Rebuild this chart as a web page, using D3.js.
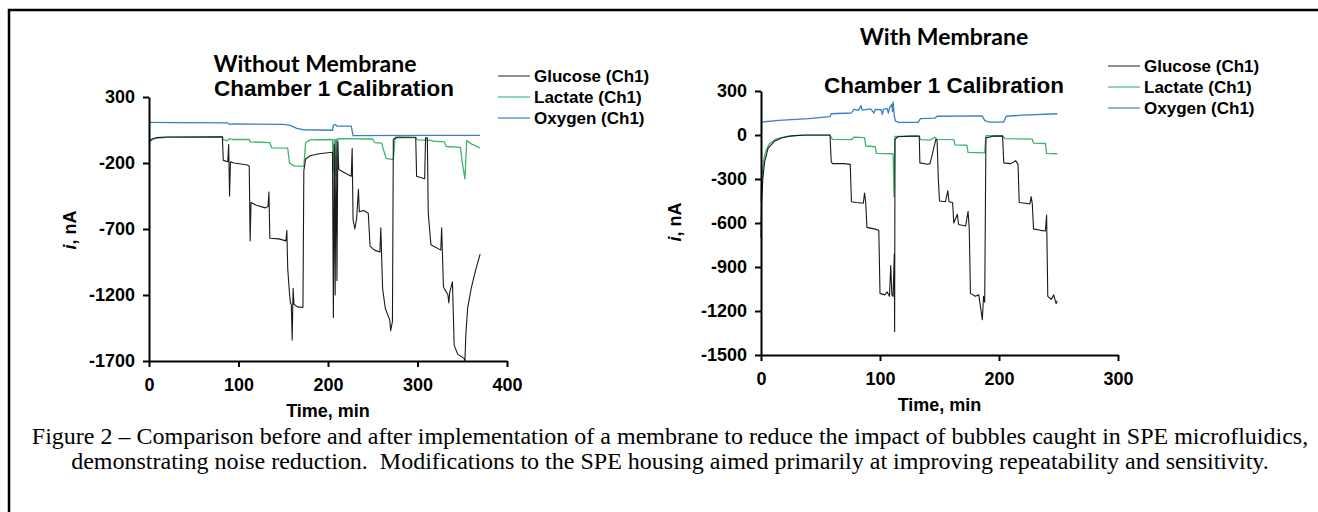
<!DOCTYPE html>
<html>
<head>
<meta charset="utf-8">
<script src="https://cdn.jsdelivr.net/npm/d3@7"></script>
<style>
  body { margin: 0; background: #fff; }
</style>
</head>
<body>
<div class="chart"></div>
<script>
// series values: [time (min), current (nA)]
var seriesNames = ['Glucose (Ch1)', 'Lactate (Ch1)', 'Oxygen (Ch1)'];
var seriesColors = ['#1a1a1a', '#3db56c', '#3d7fc6'];
var legendColors = ['#555555', '#4cc08a', '#4a8cc8'];

var leftXTicks = [0, 100, 200, 300, 400];
var leftYTicks = [300, -200, -700, -1200, -1700];
var rightXTicks = [0, 100, 200, 300];
var rightYTicks = [300, 0, -300, -600, -900, -1200, -1500];

var leftGlucose = [[0,-35],[3,-20],[8,-8],[20,-3],[82,-2],
  [83,-180],[88,-190],[89,-60],[90,-450],[91,-190],[95,-200],[110,-215],[112,-225],
  [113,-790],[114,-500],[120,-520],[130,-540],[133,-530],[134,-420],[135,-770],[145,-775],[153,-790],
  [154,-710],[155,-1000],[157,-1190],[158,-1260],[159,-1270],[160,-1540],[161,-1150],[162,-1270],[166,-1290],[172,-1295],
  [173,-260],[175,-170],[180,-145],[190,-130],[205,-118],
  [206,-1370],[207,-60],[208,-1200],[209,-20],[210,-1090],[211,-40],[212,-250],[220,-280],[226,-300],
  [227,-90],[228,-630],[230,-700],[232,-620],[234,-400],[235,-570],[240,-560],[245,-580],
  [247,-830],[252,-860],[258,-875],[259,-690],[261,-1150],[264,-1300],[269,-1390],[270,-1470],[272,-1400],
  [273,-20],[278,-5],[298,-5],[299,-300],[308,-320],[309,-10],[311,-10],
  [312,-580],[315,-820],[326,-860],[327,-690],[329,-1140],[334,-1200],[335,-1260],[336,-1180],[339,-1100],
  [341,-1580],[345,-1650],[352,-1680],[353,-1700],[354,-1500],[356,-1300],[360,-1150],[365,-1010],[370,-890]];

var leftLactate = [[0,-40],[3,-25],[8,-12],[20,-6],[82,-5],[83,-25],[88,-30],[90,-15],[93,-22],[112,-22],
  [113,-40],[135,-45],[137,-85],[155,-88],[157,-200],[162,-222],[173,-225],[175,-45],[180,-25],[205,-22],
  [206,-260],[207,-20],[209,-300],[211,-15],[250,-18],[252,-45],[260,-50],[262,-100],[265,-165],[273,-175],
  [275,-5],[298,-8],[300,-25],[315,-28],[317,-35],[330,-40],[332,-75],[348,-82],[350,-195],[353,-320],
  [355,-30],[360,-55],[370,-85]];

var leftOxygen = [[0,108],[30,106],[88,104],[90,92],[93,96],[150,92],[158,85],[165,62],[172,52],[205,48],
  [206,85],[208,92],[210,80],[226,80],[228,8],[300,10],[370,10]];

var rightGlucose = [[0,-700],[0.5,-450],[1.5,-300],[3,-185],[6,-90],[11,-45],[17,-20],[24,-8],[37,0],[58,0],
  [59,-180],[60,-195],[70,-195],[75,-200],[76,-455],[80,-460],[86,-465],[87,-395],[88,-460],[89,-630],[95,-640],
  [99,-650],[100,-1080],[104,-1090],[106,-1070],[108,-1100],[109,-890],[110,-1090],[111,-1100],[112,-810],
  [112.3,-1340],[112.6,-30],[115,-12],[125,-8],[133,-8],
  [133.5,-190],[140,-200],[142,-195],[144,-130],[146,-60],[147,-30],[148,-40],[149,-300],[150,-450],[155,-455],
  [157,-380],[158,-455],[161,-460],[162,-600],[165,-540],[166,-610],[172,-620],[174,-520],[175,-640],
  [176,-1080],[180,-1100],[183,-1090],[186,-1260],[187,-1100],[188,-1140],[189,-20],[195,-8],[203,-8],
  [204,-190],[210,-195],[214,-175],[216,-200],[217,-460],[222,-465],[226,-470],[227,-420],[228,-470],
  [229,-640],[235,-650],[239,-655],[240,-545],[241,-1100],[244,-1120],[246,-1090],[248,-1150],[249,-1130]];

var rightLactate = [[0,-450],[0.7,-300],[2,-180],[4,-110],[7,-60],[12,-30],[20,-12],[30,-3],[58,-2],
  [60,-30],[76,-32],[78,-15],[87,-18],[88,-75],[96,-80],[97,-125],[111,-128],[111.8,-420],[112.5,-10],
  [133,-8],[134,-32],[142,-35],[146,-15],[148,-30],[162,-32],[163,-68],[173,-70],[174,-118],[188,-122],
  [189,-5],[203,-5],[205,-25],[228,-28],[229,-55],[239,-58],[240,-125],[249,-128]];

var rightOxygen = [[0,88],[15,100],[40,112],[58,125],[59,145],[76,150],[78,175],[82,168],[84,200],[85,170],
  [92,178],[95,150],[96,175],[101,172],[102,140],[103,176],[106,180],[107,150],[108,185],[110,210],
  [110.5,160],[111,225],[112,130],[113,95],[116,86],[132,86],[134,112],[146,115],[148,128],[186,130],
  [188,98],[192,88],[204,88],[206,128],[220,135],[249,145]];

var W = 1318, H = 512;
var svg = d3.select('.chart')
  .append('svg')
  .attr('width', W)
  .attr('height', H);

// frame around the figure (runs off the right and bottom edges)
svg.append('path')
  .attr('d', 'M9,' + H + 'V10H' + W)
  .style('fill', 'none')
  .style('stroke', '#000')
  .style('stroke-width', 2.5);

function drawChart(c) {
  var x = d3.scaleLinear().domain(c.xDomain).range(c.xRange);
  var y = d3.scaleLinear().domain(c.yDomain).range(c.yRange);
  var g = svg.append('g');

  var line = d3.line()
    .x(function(d) { return x(d[0]); })
    .y(function(d) { return y(d[1]); });

  // draw oxygen first, glucose on top like the original
  [2, 1, 0].forEach(function(i) {
    g.append('path')
      .datum(c.series[i])
      .attr('d', line)
      .style('fill', 'none')
      .style('stroke', seriesColors[i])
      .style('stroke-width', i == 0 ? 1.1 : 1.3)
      .style('stroke-linejoin', 'round');
  });

  var fmt = function(d) { return String(d); };
  var yAxis = d3.axisLeft(y).tickValues(c.yTicks).tickFormat(fmt).tickSize(6).tickSizeOuter(0).tickPadding(8);
  var xAxis = d3.axisBottom(x).tickValues(c.xTicks).tickFormat(fmt).tickSize(6).tickSizeOuter(0).tickPadding(11);

  var ya = g.append('g')
    .attr('transform', 'translate(' + c.xRange[0] + ',0)')
    .call(yAxis);
  var xa = g.append('g')
    .attr('transform', 'translate(0,' + c.yRange[0] + ')')
    .call(xAxis);

  [ya, xa].forEach(function(a) {
    a.select('.domain').style('stroke', '#000').style('stroke-width', 2);
    a.selectAll('.tick line').style('stroke', '#000').style('stroke-width', 2);
    a.selectAll('.tick text')
      .style('font-family', '"Liberation Sans", Arial, sans-serif')
      .style('font-weight', 'bold')
      .style('font-size', '18px')
      .style('fill', '#000');
  });

  // axis titles
  var xMid = (c.xRange[0] + c.xRange[1]) / 2;
  g.append('text')
    .attr('x', xMid)
    .attr('y', c.yRange[0] + 56)
    .attr('text-anchor', 'middle')
    .style('font-family', '"Liberation Sans", Arial, sans-serif')
    .style('font-weight', 'bold')
    .style('font-size', '18px')
    .text('Time, min');

  var yl = g.append('text')
    .attr('transform', 'translate(' + c.yLabelX + ',' + c.yLabelY + ') rotate(-90)')
    .attr('text-anchor', 'middle')
    .style('font-family', '"Liberation Sans", Arial, sans-serif')
    .style('font-weight', 'bold')
    .style('font-size', '18px');
  yl.append('tspan').style('font-style', 'italic').text('i');
  yl.append('tspan').text(', nA');

  // titles
  g.append('text')
    .attr('x', c.titleX)
    .attr('y', c.titleY)
    .attr('text-anchor', 'middle')
    .style('font-family', 'Lato, "Open Sans", sans-serif')
    .style('font-weight', 'bold')
    .style('font-size', '23px')
    .text(c.title);
  g.append('text')
    .attr('x', c.subX)
    .attr('y', c.subY)
    .attr('text-anchor', 'middle')
    .style('font-family', '"Liberation Sans", Arial, sans-serif')
    .style('font-weight', 'bold')
    .style('font-size', '22.5px')
    .text('Chamber 1 Calibration');

  // legend
  var lg = g.append('g').attr('transform', 'translate(' + c.legendX + ',' + c.legendY + ')');
  seriesNames.forEach(function(name, i) {
    lg.append('line')
      .attr('x1', 0).attr('x2', 32)
      .attr('y1', i * c.legendStep).attr('y2', i * c.legendStep)
      .style('stroke', legendColors[i])
      .style('stroke-width', 1.3);
    lg.append('text')
      .attr('x', 36)
      .attr('y', i * c.legendStep + 6)
      .style('font-family', '"Liberation Sans", Arial, sans-serif')
      .style('font-weight', 'bold')
      .style('font-size', '17px')
      .text(name);
  });
}

drawChart({
  series: [leftGlucose, leftLactate, leftOxygen],
  xDomain: [0, 400], xRange: [149, 507],
  yDomain: [-1700, 300], yRange: [361, 97],
  xTicks: leftXTicks, yTicks: leftYTicks,
  yLabelX: 76, yLabelY: 230,
  title: 'Without Membrane', titleX: 315, titleY: 72,
  subX: 334, subY: 96,
  legendX: 498, legendY: 76, legendStep: 21
});

drawChart({
  series: [rightGlucose, rightLactate, rightOxygen],
  xDomain: [0, 300], xRange: [761, 1118],
  yDomain: [-1500, 300], yRange: [355, 91],
  xTicks: rightXTicks, yTicks: rightYTicks,
  yLabelX: 681, yLabelY: 222,
  title: 'With Membrane', titleX: 944, titleY: 45,
  subX: 944, subY: 93,
  legendX: 1108, legendY: 66, legendStep: 21
});

// caption
var caption = [
  'Figure 2 \u2013 Comparison before and after implementation of a membrane to reduce the impact of bubbles caught in SPE microfluidics,',
  'demonstrating noise reduction.  Modifications to the SPE housing aimed primarily at improving repeatability and sensitivity.'
];
svg.append('text')
  .attr('x', 670)
  .attr('y', 444)
  .attr('text-anchor', 'middle')
  .style('font-family', '"Liberation Serif", "Times New Roman", serif')
  .style('font-size', '24px')
  .style('white-space', 'pre')
  .text(caption[0]);
svg.append('text')
  .attr('x', 670)
  .attr('y', 469)
  .attr('text-anchor', 'middle')
  .style('font-family', '"Liberation Serif", "Times New Roman", serif')
  .style('font-size', '24px')
  .style('white-space', 'pre')
  .text(caption[1]);
</script>
</body>
</html>
